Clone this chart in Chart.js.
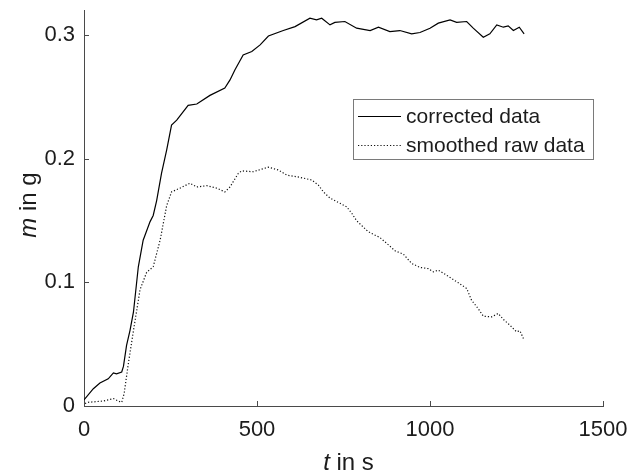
<!DOCTYPE html>
<html>
<head>
<meta charset="utf-8">
<script src="https://cdn.jsdelivr.net/npm/chart.js@4"></script>
<style>
  html, body { margin: 0; padding: 0; background: #fff; }
  canvas { display: block; }
</style>
</head>
<body>
<canvas id="massChart" width="639" height="476"></canvas>
<script>
// values
const correctedT = [0, 27, 46, 70, 85, 94, 109, 114, 123, 133, 143, 157, 171, 191, 200, 210, 224, 239, 253, 268,
    301, 326, 364, 407, 422, 436, 460, 485, 509, 533, 576, 610, 653, 672, 687, 711, 725, 754, 788, 827,
    851, 884, 913, 947, 971, 1000, 1024, 1058, 1077, 1106, 1125, 1154, 1173, 1193, 1212, 1226, 1241, 1258, 1272];
const correctedM = [0.005, 0.014, 0.0186, 0.022, 0.0267, 0.026, 0.0275, 0.032, 0.049, 0.0612, 0.076, 0.1125, 0.134, 0.149, 0.154, 0.166, 0.188, 0.207, 0.227, 0.231,
    0.243, 0.244, 0.251, 0.257, 0.2635, 0.2715, 0.2837, 0.2864, 0.2918, 0.299, 0.3034, 0.3066, 0.3134, 0.312, 0.3134, 0.308, 0.310, 0.3107, 0.3053, 0.3034,
    0.3061, 0.3026, 0.3034, 0.3007, 0.3018, 0.3053, 0.3094, 0.312, 0.310, 0.3107, 0.3053, 0.298, 0.3007, 0.308, 0.3061, 0.3072, 0.3034, 0.3061, 0.3007];

const rawT = [3, 12, 56, 85, 99, 109, 116, 128, 143, 162, 181, 200, 220, 239, 253, 277, 306, 326, 355, 384,
    407, 422, 446, 456, 489, 509, 533, 562, 586, 624, 658, 677, 692, 711, 740, 759, 774, 788, 817, 827,
    855, 875, 899, 923, 947, 971, 995, 1010, 1024, 1048, 1082, 1106, 1120, 1139, 1154, 1178, 1197, 1212, 1231, 1250, 1260, 1270];
const rawM = [0.002, 0.003, 0.004, 0.006, 0.004, 0.003, 0.010, 0.034, 0.061, 0.094, 0.108, 0.1125, 0.134, 0.162, 0.173, 0.176, 0.180, 0.177, 0.178, 0.176,
    0.173, 0.177, 0.188, 0.190, 0.1893, 0.191, 0.193, 0.1907, 0.1866, 0.1848, 0.1826, 0.1786, 0.173, 0.168, 0.1638, 0.161, 0.1557, 0.1497, 0.142, 0.140,
    0.1362, 0.1314, 0.1254, 0.1227, 0.1152, 0.112, 0.111, 0.1084, 0.1098, 0.1057, 0.0995, 0.095, 0.0855, 0.0788, 0.0726, 0.072, 0.0748, 0.070, 0.0653, 0.060, 0.0607, 0.0545];

const seriesLabels = ['corrected data', 'smoothed raw data'];
const xTicks = [0, 500, 1000, 1500];
const yTicks = [0, 0.1, 0.2, 0.3];

const FONT = 'Liberation Sans';
const AXIS = '#4a4a4a';
const TEXT = '#1c1c1c';

function toPoints(ts, ms) {
    return ts.map((t, i) => ({ x: t, y: ms[i] }));
}

// inward tick marks, axis titles with italic symbols, legend box
const extras = {
    id: 'extras',
    afterDraw(chart) {
        const ctx = chart.ctx;
        const xs = chart.scales.x;
        const ys = chart.scales.y;
        const area = chart.chartArea;
        ctx.save();
        ctx.strokeStyle = AXIS;
        ctx.lineWidth = 1;
        ctx.beginPath();
        xTicks.forEach(v => {
            const px = Math.round(xs.getPixelForValue(v)) + 0.5;
            ctx.moveTo(px, area.bottom);
            ctx.lineTo(px, area.bottom - 5);
        });
        yTicks.forEach(v => {
            const py = Math.round(ys.getPixelForValue(v)) + 0.5;
            ctx.moveTo(area.left, py);
            ctx.lineTo(area.left + 5, py);
        });
        ctx.stroke();

        // axis titles
        ctx.fillStyle = TEXT;
        ctx.textBaseline = 'alphabetic';
        const drawTitle = (sym, rest) => {
            ctx.font = 'italic 24px "' + FONT + '"';
            const w1 = ctx.measureText(sym).width;
            ctx.font = '24px "' + FONT + '"';
            const w2 = ctx.measureText(rest).width;
            const start = -(w1 + w2) / 2;
            ctx.font = 'italic 24px "' + FONT + '"';
            ctx.textAlign = 'left';
            ctx.fillText(sym, start, 0);
            ctx.font = '24px "' + FONT + '"';
            ctx.fillText(rest, start + w1, 0);
        };
        ctx.save();
        ctx.translate((area.left + area.right) / 2 + 5, 470);
        drawTitle('t', ' in s');
        ctx.restore();
        ctx.save();
        ctx.translate(36, (area.top + area.bottom) / 2 - 3);
        ctx.rotate(-Math.PI / 2);
        drawTitle('m', ' in g');
        ctx.restore();

        // legend
        const bx = 353, by = 99, bw = 240, bh = 60;
        ctx.fillStyle = '#fff';
        ctx.fillRect(bx, by, bw, bh);
        ctx.strokeStyle = '#7a7a7a';
        ctx.strokeRect(bx + 0.5, by + 0.5, bw, bh);
        ctx.font = '21px "' + FONT + '"';
        ctx.textAlign = 'left';
        ctx.textBaseline = 'middle';
        chart.data.datasets.forEach((ds, i) => {
            const ly = by + 17 + i * 29;
            ctx.strokeStyle = ds.borderColor;
            ctx.lineWidth = ds.borderWidth;
            ctx.setLineDash(ds.borderDash || []);
            ctx.beginPath();
            ctx.moveTo(bx + 5, ly + 0.5);
            ctx.lineTo(bx + 48, ly + 0.5);
            ctx.stroke();
            ctx.setLineDash([]);
            ctx.fillStyle = TEXT;
            ctx.fillText(ds.label, bx + 53, ly + 1);
        });
        ctx.restore();
    }
};

new Chart(document.getElementById('massChart'), {
    type: 'line',
    data: {
        datasets: [{
            label: seriesLabels[0],
            data: toPoints(correctedT, correctedM),
            borderColor: '#000',
            borderWidth: 1.2,
            pointRadius: 0,
            tension: 0,
            fill: false,
        }, {
            label: seriesLabels[1],
            data: toPoints(rawT, rawM),
            borderColor: '#111',
            borderWidth: 1.2,
            borderDash: [1.2, 2],
            pointRadius: 0,
            tension: 0,
            fill: false,
        }]
    },
    options: {
        responsive: false,
        animation: false,
        devicePixelRatio: 1,
        layout: { padding: { top: 10, right: 36, left: 0, bottom: 0 } },
        plugins: {
            legend: { display: false },
            tooltip: { enabled: false },
        },
        scales: {
            x: {
                type: 'linear',
                min: 0,
                max: 1500,
                afterBuildTicks: s => { s.ticks = xTicks.map(v => ({ value: v })); },
                afterFit: s => { s.height = 70; s.paddingLeft = 0; s.paddingRight = 0; },
                grid: { display: false, drawTicks: false },
                border: { display: true, color: AXIS, width: 1 },
                ticks: {
                    color: TEXT,
                    font: { family: FONT, size: 22 },
                    padding: 11,
                    maxRotation: 0,
                    callback: v => String(v),
                },
            },
            y: {
                type: 'linear',
                min: 0,
                max: 0.32,
                afterBuildTicks: s => { s.ticks = yTicks.map(v => ({ value: v })); },
                afterFit: s => { s.width = 84; s.paddingTop = 0; s.paddingBottom = 0; },
                grid: { display: false, drawTicks: false },
                border: { display: true, color: AXIS, width: 1 },
                ticks: {
                    color: TEXT,
                    font: { family: FONT, size: 22 },
                    padding: 9,
                    callback: v => String(Math.round(v * 10) / 10),
                },
            }
        }
    },
    plugins: [extras]
});
</script>
</body>
</html>
